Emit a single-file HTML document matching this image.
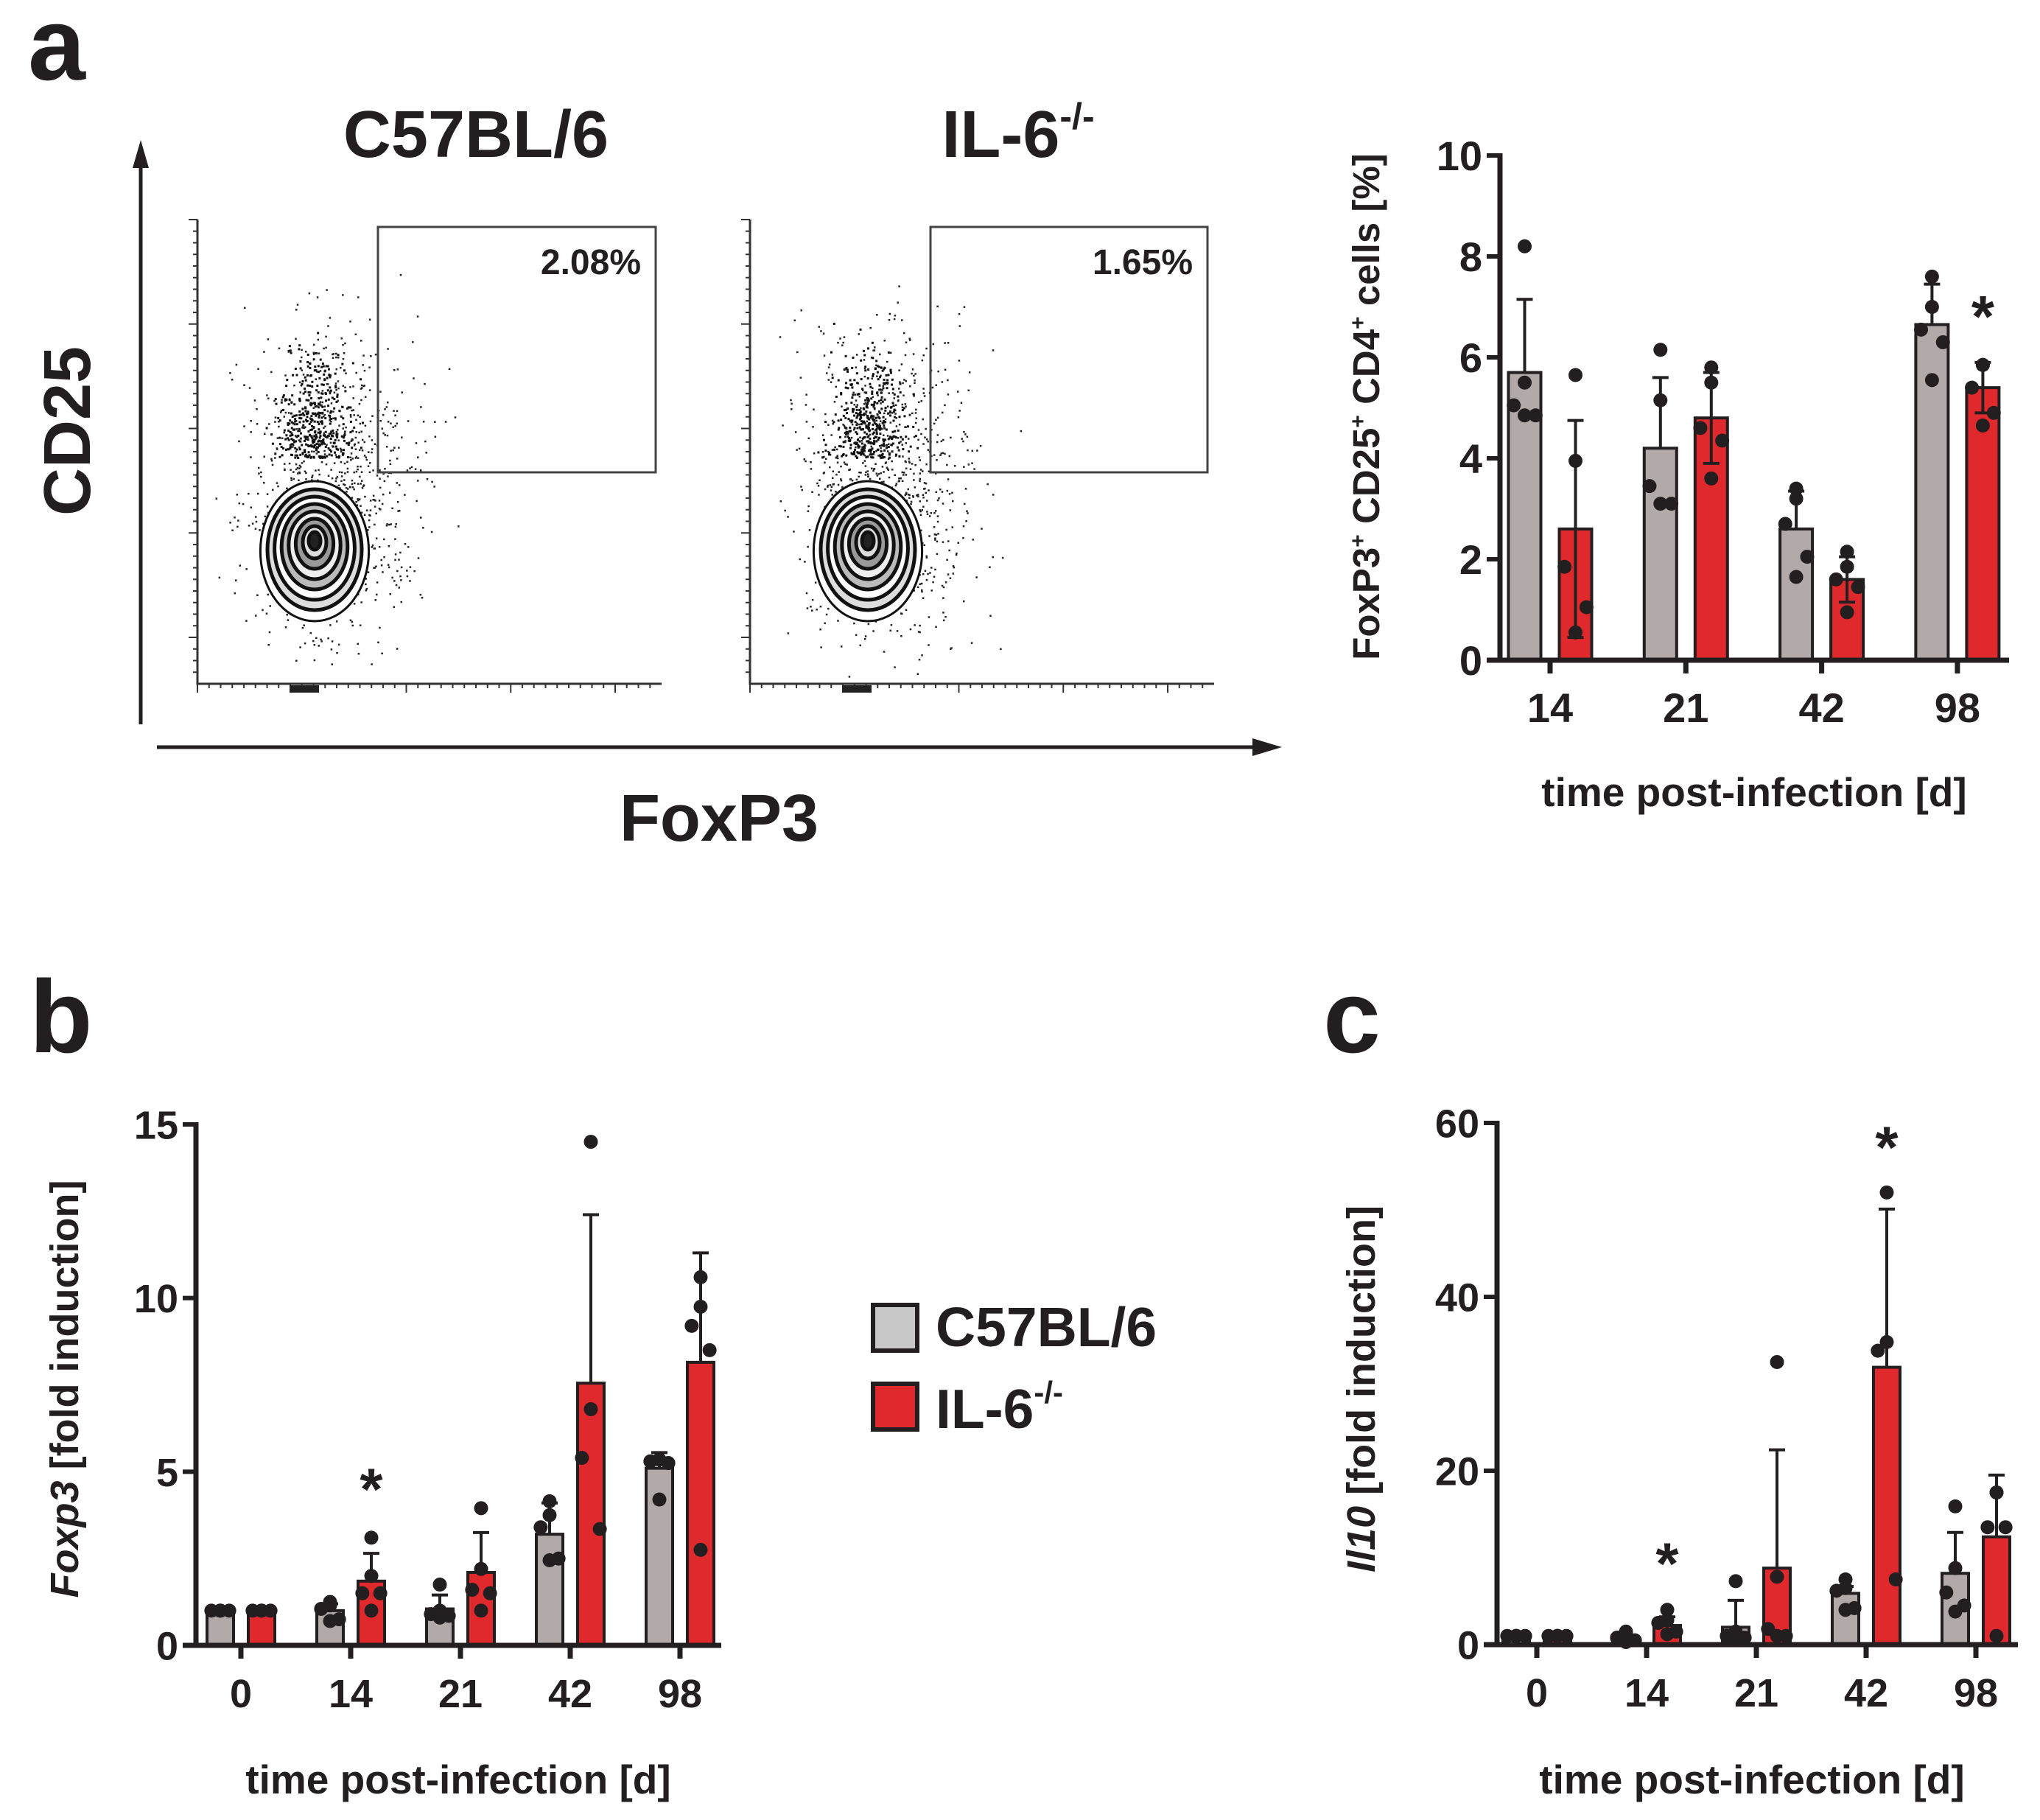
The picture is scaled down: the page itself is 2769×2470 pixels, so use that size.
<!DOCTYPE html>
<html><head><meta charset="utf-8"><style>
html,body{margin:0;padding:0;background:#fff;}
svg{display:block;font-family:"Liberation Sans",Arial,sans-serif;font-weight:bold;}
</style></head><body>
<svg id="fig" width="2769" height="2470" viewBox="0 0 2769 2470" xmlns="http://www.w3.org/2000/svg">
<rect width="2769" height="2470" fill="#fff"/>
<text x="38" y="108" font-size="140" fill="#231f20">a</text>
<text x="40" y="1428" font-size="140" fill="#231f20">b</text>
<text x="1796" y="1428" font-size="140" fill="#231f20">c</text>

<g id="flow">
  <text x="646" y="213" font-size="90" text-anchor="middle" fill="#231f20">C57BL/6</text>
  <text x="1382" y="213" font-size="90" text-anchor="middle" fill="#231f20">IL-6<tspan font-size="50" dy="-38">-/-</tspan></text>
  <line x1="191" y1="983" x2="191" y2="215" stroke="#231f20" stroke-width="5"/>
  <polygon points="191,190 180,228 202,228" fill="#231f20"/>
  <line x1="213" y1="1014" x2="1705" y2="1014" stroke="#231f20" stroke-width="5"/>
  <polygon points="1740,1014 1700,1002 1700,1026" fill="#231f20"/>
  <text transform="translate(122,585) rotate(-90)" font-size="90" text-anchor="middle" fill="#231f20">CD25</text>
  <text x="976" y="1141" font-size="90" text-anchor="middle" fill="#231f20">FoxP3</text>
</g>

<g>
  <rect x="1185" y="1771" width="60" height="62" fill="#c8c8c8" stroke="#231f20" stroke-width="6"/>
  <text x="1270" y="1827" font-size="75" fill="#231f20">C57BL/6</text>
  <rect x="1185" y="1878" width="60" height="62" fill="#e0292d" stroke="#231f20" stroke-width="6"/>
  <text x="1270" y="1938" font-size="75" fill="#231f20">IL-6<tspan font-size="42" dy="-34">-/-</tspan></text>
</g>
</svg>
<script>
// ---------- Chart a: FoxP3+ CD25+ CD4+ cells [%] ----------
const aCategories = ["14","21","42","98"];
const aTicks = [0,2,4,6,8,10];
const aGrayMean = [5.7,4.2,2.6,6.65];
const aGrayErr = [1.45,1.4,0.75,0.8];
const aRedMean = [2.6,4.8,1.6,5.4];
const aRedErr = [2.15,0.9,0.45,0.5];
const aGrayPts = [[8.2,5.5,5.05,4.85,4.85],[6.15,5.15,3.45,3.1,3.1],[3.4,3.2,2.7,2.05,1.65],[7.6,7.0,6.55,6.3,5.55]];
const aRedPts = [[5.65,3.95,1.85,1.05,0.55],[5.8,5.5,4.6,4.35,3.6],[2.15,1.85,1.6,1.45,0.95],[5.85,5.85,5.4,4.9,4.65]];
const aStars = [[3,"red",7.05]];

// ---------- Chart b: Foxp3 fold induction ----------
const bCategories = ["0","14","21","42","98"];
const bTicks = [0,5,10,15];
const bGrayMean = [1.0,1.0,1.05,3.2,5.1];
const bGrayErr = [0,0.2,0.4,0.9,0.45];
const bRedMean = [1.0,1.85,2.1,7.55,8.15];
const bRedErr = [0,0.8,1.15,4.85,3.15];
const bGrayPts = [[1.0,1.0,1.0,1.0,1.0],[1.25,1.15,1.05,0.75,0.7],[1.75,1.0,0.9,0.85,0.8],[4.15,3.75,3.4,2.5,2.45],[5.35,5.35,5.3,5.25,4.2]];
const bRedPts = [[1.0,1.0,1.0,1.0,1.0],[3.1,2.0,1.5,1.5,1.0],[3.95,2.2,1.6,1.5,1.0],[14.5,6.8,5.4,3.35],[10.6,9.75,9.2,8.5,2.75]];
const bStars = [[1,"red",4.85]];

// ---------- Chart c: Il10 fold induction ----------
const cCategories = ["0","14","21","42","98"];
const cTicks = [0,20,40,60];
const cGrayMean = [0.8,0.7,2.0,5.9,8.2];
const cGrayErr = [0,0.4,3.1,0.8,4.7];
const cRedMean = [0.8,2.2,8.8,31.9,12.4];
const cRedErr = [0,1.0,13.6,18.2,7.1];
const cGrayPts = [[1.0,1.0,1.0,1.0,1.0],[1.5,1.2,0.8,0.5,0.3],[7.3,1.5,1.0,0.8,0.5],[7.5,6.5,6.2,4.2,4.0],[15.9,8.8,6.0,4.5,3.8]];
const cRedPts = [[1.0,1.0,1.0,1.0,1.0],[4.0,2.8,2.5,1.5,1.2],[32.5,7.8,1.8,1.0,1.0],[52,34.8,33.8,7.5],[17.5,17.5,13.5,13.5,1.0]];
const cStars = [[1,"red",10.7],[3,"red",58.6]];

const NS = "http://www.w3.org/2000/svg";
const svg = document.getElementById('fig');
function mk(tag, attrs, parent){
  const e = document.createElementNS(NS, tag);
  for (const k in attrs) e.setAttribute(k, attrs[k]);
  (parent||svg).appendChild(e);
  return e;
}
const INK = "#231f20", GRAY = "#b1aaa8", RED = "#e0292d";
const jitter = [0, 0, -0.75, 0.75, 0];

function barChart(cfg){
  const g = mk('g', {});
  
  
  const yMax = cfg.ticks[cfg.ticks.length-1];
  const yS = v => cfg.y0 - (v / yMax) * (cfg.y0 - cfg.yTop);
  const xC = i => cfg.x0 + cfg.pad + i * cfg.step;
  const series = [
    {key:"gray", mean:cfg.gm, err:cfg.ge, pts:cfg.gp, fill:GRAY, off:-cfg.off, lower:false},
    {key:"red", mean:cfg.rm, err:cfg.re, pts:cfg.rp, fill:RED, off:cfg.off, lower:cfg.lowerRed}
  ];
  series.forEach(s => {
    s.mean.forEach((m, i) => {
      const cx = xC(i) + s.off;
      const r = mk('rect', {x: cx - cfg.bw/2, y: yS(m), width: cfg.bw, height: yS(0) - yS(m), fill: s.fill, stroke: INK, 'stroke-width': 4}, g);
      
      
      if (s.err[i] > 0) {
        const lo = s.lower ? m - s.err[i] : m;
        let d = `M${cx},${yS(lo)}V${yS(m + s.err[i])}M${cx-11},${yS(m + s.err[i])}H${cx+11}`;
        if (s.lower) d += `M${cx-11},${yS(lo)}H${cx+11}`;
        const e = mk('path', {d: d, stroke: INK, 'stroke-width': 4, fill: 'none'}, g);
        
        
      }
      s.pts[i].forEach((v, j) => {
        const d = mk('circle', {cx: cx + jitter[j % 5] * cfg.bw * 0.45, cy: yS(v), r: 9.5, fill: INK}, g);
        
        
      });
    });
  });
  const ya = mk('line', {x1: cfg.x0, y1: cfg.yTop - 3, x2: cfg.x0, y2: cfg.y0 + 3, stroke: INK, 'stroke-width': 7}, g);
  
  
  const xa = mk('line', {x1: cfg.x0 - 18, y1: cfg.y0, x2: cfg.xEnd, y2: cfg.y0, stroke: INK, 'stroke-width': 7}, g);
  
  
  cfg.ticks.forEach(t => {
    mk('line', {x1: cfg.x0 - 18, y1: yS(t), x2: cfg.x0, y2: yS(t), stroke: INK, 'stroke-width': 6}, g);
    const tl = mk('text', {x: cfg.x0 - 24, y: yS(t) + cfg.fs * 0.36, 'font-size': cfg.fs, 'text-anchor': 'end', fill: INK}, g);
    tl.textContent = t;
    
    
  });
  cfg.cats.forEach((c, i) => {
    mk('line', {x1: xC(i), y1: cfg.y0, x2: xC(i), y2: cfg.y0 + 18, stroke: INK, 'stroke-width': 7}, g);
    const tl = mk('text', {x: xC(i), y: cfg.y0 + 84, 'font-size': cfg.fs, 'text-anchor': 'middle', fill: INK}, g);
    tl.textContent = c;
    
    
  });
  cfg.stars.forEach(st => {
    const cx = xC(st[0]) + (st[1] === "red" ? cfg.off : -cfg.off);
    const s = mk('text', {x: cx, y: yS(st[2]) + 44, 'font-size': 80, 'text-anchor': 'middle', fill: INK}, g);
    s.textContent = '*';
    
    
  });
  const xt = mk('text', {x: cfg.xtX, y: cfg.xtY, 'font-size': 55, 'text-anchor': 'middle', fill: INK}, g);
  xt.textContent = 'time post-infection [d]';
  
  
  const yt = mk('text', {transform: `translate(${cfg.ytX},${cfg.ytY}) rotate(-90)`, 'font-size': cfg.ytFs, 'text-anchor': 'middle', fill: INK}, g);
  yt.innerHTML = cfg.ytHtml;
  
  
}

barChart({name:'chart-a-treg-percent', cats:aCategories, ticks:aTicks, gm:aGrayMean, ge:aGrayErr, rm:aRedMean, re:aRedErr, gp:aGrayPts, rp:aRedPts, stars:aStars, lowerRed:true,
  x0:2036, xEnd:2727, y0:896, yTop:211, pad:68, step:184.3, off:34.5, bw:44, fs:56,
  xtX:2381, xtY:1094, ytX:1872, ytY:552, ytFs:51,
  ytHtml:'FoxP3<tspan font-size="30" dy="-19">+</tspan><tspan dy="19"> CD25</tspan><tspan font-size="30" dy="-19">+</tspan><tspan dy="19"> CD4</tspan><tspan font-size="30" dy="-19">+</tspan><tspan dy="19"> cells [%]</tspan>'});

barChart({name:'chart-b-foxp3', cats:bCategories, ticks:bTicks, gm:bGrayMean, ge:bGrayErr, rm:bRedMean, re:bRedErr, gp:bGrayPts, rp:bRedPts, stars:bStars, lowerRed:false,
  x0:266, xEnd:979, y0:2233, yTop:1526, pad:61, step:149, off:28, bw:36, fs:54,
  xtX:622, xtY:2434, ytX:106, ytY:1885, ytFs:54,
  ytHtml:'<tspan font-style="italic">Foxp3</tspan> [fold induction]'});

barChart({name:'chart-c-il10', cats:cCategories, ticks:cTicks, gm:cGrayMean, ge:cGrayErr, rm:cRedMean, re:cRedErr, gp:cGrayPts, rp:cRedPts, stars:cStars, lowerRed:false,
  x0:2032, xEnd:2739, y0:2232, yTop:1524, pad:54, step:149, off:28, bw:36, fs:54,
  xtX:2378, xtY:2434, ytX:1866, ytY:1885, ytFs:54,
  ytHtml:'<tspan font-style="italic">Il10</tspan> [fold induction]'});

// ---------- Flow cytometry plots (decorative) ----------
const flow = document.getElementById('flow');
let seed = 7;
function rnd(){ seed = (seed * 16807) % 2147483647; return (seed - 1) / 2147483646; }
function gauss(){ return (rnd()+rnd()+rnd()+rnd()-2) / 0.8; }
function flowPlot(name, L, R, gateL, gateR, cx, pct){
  const g = mk('g', {}, flow);
  
  
  const T = 298, B = 928;
  mk('path', {d:`M${L},${T}V${B}H${R}`, stroke: '#333', 'stroke-width': 3, fill: 'none'}, g);
  for (let k = 0; k < 40; k++) {
    const y = T + k * (B - T) / 40;
    mk('line', {x1: L - (k % 9 === 0 ? 12 : 6), y1: y, x2: L, y2: y, stroke: '#333', 'stroke-width': 2}, g);
    const x = L + k * (R - L) / 40;
    mk('line', {x1: x, y1: B, x2: x, y2: B + (k % 9 === 0 ? 12 : 6), stroke: '#333', 'stroke-width': 2}, g);
  }
  mk('rect', {x: L + 125, y: B + 2, width: 40, height: 10, fill: '#222'}, g);
  for (let k = 0; k < 900; k++) {
    const x = cx + gauss() * 80 + 25, y = 690 + gauss() * 140 - Math.abs(gauss()) * 50;
    if (x > L + 5 && x < R && y > 320 && y < B - 5)
      mk('rect', {x: x, y: y, width: 2.5, height: 2.5, fill: '#222'}, g);
  }
  // dense column of events above contour
  for (let k = 0; k < 400; k++) {
    const x = cx + gauss() * 35, y = 620 - Math.abs(gauss()) * 90;
    mk('rect', {x: x, y: y, width: 3, height: 3, fill: '#111'}, g);
  }
  const rings = [[92,95,'#fff'],[80,82,'#ddd'],[68,70,'#fff'],[56,58,'#bbb'],[44,46,'#eee'],[32,34,'#999'],[20,22,'#ddd'],[10,12,'#222']];
  rings.forEach((r, i) => {
    mk('ellipse', {cx: cx, cy: 748 - i * 2, rx: r[0] * 0.8, ry: r[1], fill: r[2], stroke: '#111', 'stroke-width': i === 0 ? 3 : 5}, g);
  });
  const gate = mk('rect', {x: gateL, y: 308, width: gateR - gateL, height: 333, fill: 'none', stroke: '#444', 'stroke-width': 3}, g);
  
  
  const t = mk('text', {x: gateR - 20, y: 372, 'font-size': 48, 'text-anchor': 'end', fill: '#231f20'}, g);
  t.textContent = pct;
  
  
}
flowPlot('flow-plot-c57bl6', 268, 898, 513, 890, 427, '2.08%');
flowPlot('flow-plot-il6ko', 1018, 1648, 1263, 1639, 1178, '1.65%');
</script>
</body></html>
